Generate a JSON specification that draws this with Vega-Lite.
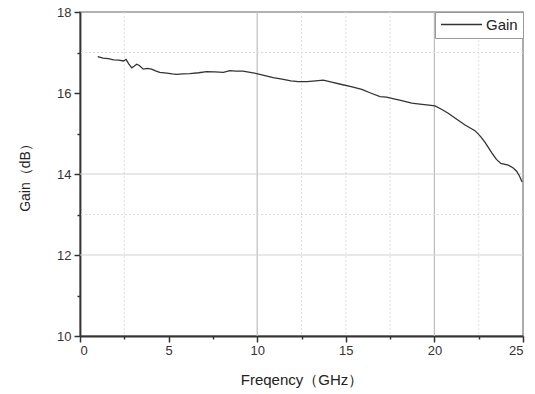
{
  "$schema": "https://vega.github.io/schema/vega-lite/v6.json",
  "width": 443,
  "height": 324,
  "autosize": {"type": "none"},
  "padding": {"left": 80, "top": 12, "right": 12, "bottom": 58},
  "background": "white",
  "config": {
    "font": "Liberation Sans",
    "view": {"stroke": "#999999", "strokeWidth": 1.6}
  },
  "datasets": {
    "gain": [
      {"f": 1.0, "g": 16.90, "s": "Gain"},
      {"f": 1.3, "g": 16.86, "s": "Gain"},
      {"f": 1.6, "g": 16.85, "s": "Gain"},
      {"f": 1.9, "g": 16.82, "s": "Gain"},
      {"f": 2.2, "g": 16.81, "s": "Gain"},
      {"f": 2.45, "g": 16.79, "s": "Gain"},
      {"f": 2.6, "g": 16.83, "s": "Gain"},
      {"f": 2.75, "g": 16.72, "s": "Gain"},
      {"f": 2.92, "g": 16.62, "s": "Gain"},
      {"f": 3.05, "g": 16.66, "s": "Gain"},
      {"f": 3.2, "g": 16.71, "s": "Gain"},
      {"f": 3.35, "g": 16.68, "s": "Gain"},
      {"f": 3.57, "g": 16.59, "s": "Gain"},
      {"f": 3.8, "g": 16.61, "s": "Gain"},
      {"f": 4.04, "g": 16.59, "s": "Gain"},
      {"f": 4.3, "g": 16.54, "s": "Gain"},
      {"f": 4.5, "g": 16.51, "s": "Gain"},
      {"f": 4.9, "g": 16.49, "s": "Gain"},
      {"f": 5.2, "g": 16.47, "s": "Gain"},
      {"f": 5.45, "g": 16.46, "s": "Gain"},
      {"f": 5.8, "g": 16.47, "s": "Gain"},
      {"f": 6.2, "g": 16.48, "s": "Gain"},
      {"f": 6.7, "g": 16.50, "s": "Gain"},
      {"f": 7.15, "g": 16.53, "s": "Gain"},
      {"f": 7.6, "g": 16.52, "s": "Gain"},
      {"f": 8.09, "g": 16.51, "s": "Gain"},
      {"f": 8.46, "g": 16.55, "s": "Gain"},
      {"f": 8.8, "g": 16.54, "s": "Gain"},
      {"f": 9.2, "g": 16.54, "s": "Gain"},
      {"f": 9.6, "g": 16.51, "s": "Gain"},
      {"f": 9.97, "g": 16.48, "s": "Gain"},
      {"f": 10.44, "g": 16.43, "s": "Gain"},
      {"f": 10.9, "g": 16.38, "s": "Gain"},
      {"f": 11.4, "g": 16.34, "s": "Gain"},
      {"f": 11.9, "g": 16.30, "s": "Gain"},
      {"f": 12.32, "g": 16.28, "s": "Gain"},
      {"f": 12.8, "g": 16.28, "s": "Gain"},
      {"f": 13.3, "g": 16.30, "s": "Gain"},
      {"f": 13.73, "g": 16.32, "s": "Gain"},
      {"f": 14.2, "g": 16.27, "s": "Gain"},
      {"f": 14.77, "g": 16.21, "s": "Gain"},
      {"f": 15.3, "g": 16.16, "s": "Gain"},
      {"f": 15.9, "g": 16.09, "s": "Gain"},
      {"f": 16.4, "g": 16.00, "s": "Gain"},
      {"f": 16.93, "g": 15.91, "s": "Gain"},
      {"f": 17.3, "g": 15.90, "s": "Gain"},
      {"f": 17.59, "g": 15.87, "s": "Gain"},
      {"f": 18.1, "g": 15.82, "s": "Gain"},
      {"f": 18.72, "g": 15.75, "s": "Gain"},
      {"f": 19.3, "g": 15.72, "s": "Gain"},
      {"f": 19.7, "g": 15.70, "s": "Gain"},
      {"f": 20.03, "g": 15.68, "s": "Gain"},
      {"f": 20.4, "g": 15.60, "s": "Gain"},
      {"f": 20.78, "g": 15.50, "s": "Gain"},
      {"f": 21.2, "g": 15.37, "s": "Gain"},
      {"f": 21.73, "g": 15.21, "s": "Gain"},
      {"f": 22.29, "g": 15.07, "s": "Gain"},
      {"f": 22.6, "g": 14.93, "s": "Gain"},
      {"f": 22.86, "g": 14.78, "s": "Gain"},
      {"f": 23.23, "g": 14.53, "s": "Gain"},
      {"f": 23.5, "g": 14.36, "s": "Gain"},
      {"f": 23.75, "g": 14.26, "s": "Gain"},
      {"f": 24.17, "g": 14.22, "s": "Gain"},
      {"f": 24.45, "g": 14.15, "s": "Gain"},
      {"f": 24.64, "g": 14.07, "s": "Gain"},
      {"f": 24.8, "g": 13.95, "s": "Gain"},
      {"f": 24.95, "g": 13.80, "s": "Gain"}
    ],
    "vsolid": [{"f": 10}, {"f": 20}],
    "vdot": [{"f": 2.5}, {"f": 12.5}, {"f": 15}, {"f": 17.5}, {"f": 22.5}],
    "hsolid": [{"g": 12}, {"g": 14}],
    "hdot": [{"g": 13}, {"g": 17}]
  },
  "layer": [
    {
      "data": {"name": "vsolid"},
      "mark": {"type": "rule", "color": "#bdbdbd", "strokeWidth": 1.2},
      "encoding": {"x": {"field": "f", "type": "quantitative"}}
    },
    {
      "data": {"name": "vdot"},
      "mark": {"type": "rule", "color": "#e2e2e2", "strokeWidth": 1, "strokeDash": [2, 2]},
      "encoding": {"x": {"field": "f", "type": "quantitative"}}
    },
    {
      "data": {"name": "hsolid"},
      "mark": {"type": "rule", "color": "#d2d2d2", "strokeWidth": 1.2},
      "encoding": {"y": {"field": "g", "type": "quantitative"}}
    },
    {
      "data": {"name": "hdot"},
      "mark": {"type": "rule", "color": "#dddddd", "strokeWidth": 1, "strokeDash": [2, 2]},
      "encoding": {"y": {"field": "g", "type": "quantitative"}}
    },
    {
      "data": {"name": "gain"},
      "mark": {"type": "line", "strokeWidth": 1.3},
      "encoding": {
        "x": {
          "field": "f",
          "type": "quantitative",
          "scale": {"domain": [0, 25], "nice": false, "zero": false},
          "axis": {
            "title": "Freqency（GHz）",
            "titleFontSize": 15,
            "titleFontWeight": "normal",
            "titleColor": "#222",
            "titlePadding": 15,
            "values": [0, 2.5, 5, 7.5, 10, 12.5, 15, 17.5, 20, 22.5, 25],
            "labelExpr": "datum.value % 5 === 0 ? datum.label : ''",
            "labelFontSize": 13,
            "labelColor": "#333",
            "labelPadding": 2,
            "domainColor": "#333",
            "domainWidth": 1.8,
            "tickColor": "#333",
            "tickWidth": 1.5,
            "tickSize": {"condition": {"test": "datum.value % 5 === 0", "value": 6}, "value": 3},
            "grid": false
          }
        },
        "y": {
          "field": "g",
          "type": "quantitative",
          "scale": {"domain": [10, 18], "nice": false, "zero": false},
          "axis": {
            "title": "Gain（dB）",
            "titleFontSize": 14,
            "titleFontWeight": "normal",
            "titleColor": "#222",
            "titlePadding": 24,
            "values": [10, 11, 12, 13, 14, 15, 16, 17, 18],
            "labelExpr": "datum.value % 2 === 0 ? datum.label : ''",
            "labelFontSize": 13,
            "labelColor": "#333",
            "labelPadding": 3,
            "domainColor": "#333",
            "domainWidth": 1.8,
            "tickColor": "#333",
            "tickWidth": 1.5,
            "tickSize": {"condition": {"test": "datum.value % 2 === 0", "value": 6}, "value": 3},
            "grid": false
          }
        },
        "color": {
          "field": "s",
          "type": "nominal",
          "scale": {"range": ["#333333"]},
          "legend": {
            "title": null,
            "orient": "top-right",
            "offset": 0,
            "padding": 5,
            "strokeColor": "#999",
            "fillColor": "white",
            "symbolType": "stroke",
            "symbolSize": 1680,
            "symbolStrokeWidth": 1.6,
            "clipHeight": 15,
            "labelFontSize": 15,
            "labelColor": "#222",
            "labelOffset": 3
          }
        }
      }
    }
  ]
}
